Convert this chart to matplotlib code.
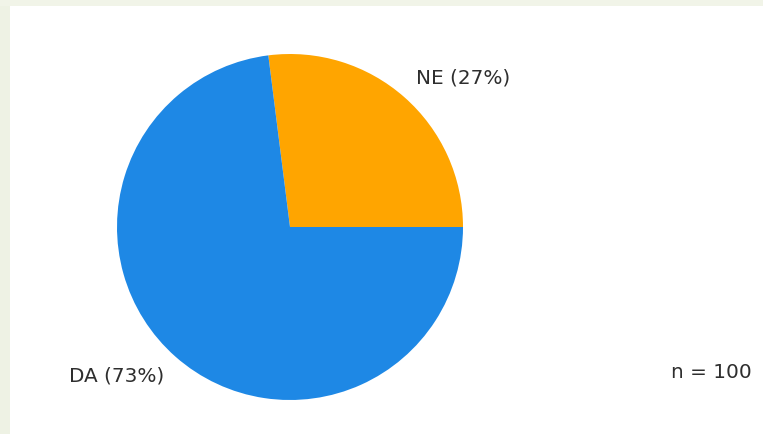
import matplotlib.pyplot as plt
from matplotlib.patches import Rectangle

labels = ['NE (27%)', 'DA (73%)']
sizes = [27, 73]
colors = ['#ffa500', '#1e88e5']
n_total = 100

W, H = 763, 434
fig = plt.figure(figsize=(W / 100, H / 100), dpi=100)
fig.patch.set_facecolor('white')

# light page border on the left and top
fig.patches.append(Rectangle((0, 0), 10 / W, 1, transform=fig.transFigure,
                             facecolor='#eef2e4', edgecolor='none', zorder=0))
fig.patches.append(Rectangle((0, 1 - 6 / H), 1, 6 / H, transform=fig.transFigure,
                             facecolor='#f1f4e8', edgecolor='none', zorder=0))

ax = fig.add_axes([0, 0, 1, 1])

wedges, texts = ax.pie(sizes, labels=labels, colors=colors, startangle=0,
                       center=(290, H - 227), radius=173, labeldistance=1.1,
                       frame=True,
                       textprops={'fontsize': 14.4, 'color': '#2e2e2e'})
# labels sit left/right of the pie centre, not of the data origin
texts[0].set_ha('left')
texts[1].set_ha('right')
x0, y0 = texts[0].get_position()
texts[0].set_position((x0, y0 + 6))
x1, y1 = texts[1].get_position()
texts[1].set_position((x1, y1 - 6))

ax.set_xlim(0, W)
ax.set_ylim(0, H)
ax.set_aspect('auto')
ax.axis('off')

ax.text(752, H - 372, f'n = {n_total}', ha='right', va='center',
        fontsize=14.4, color='#2e2e2e')

fig.savefig('out.png', dpi=100)
